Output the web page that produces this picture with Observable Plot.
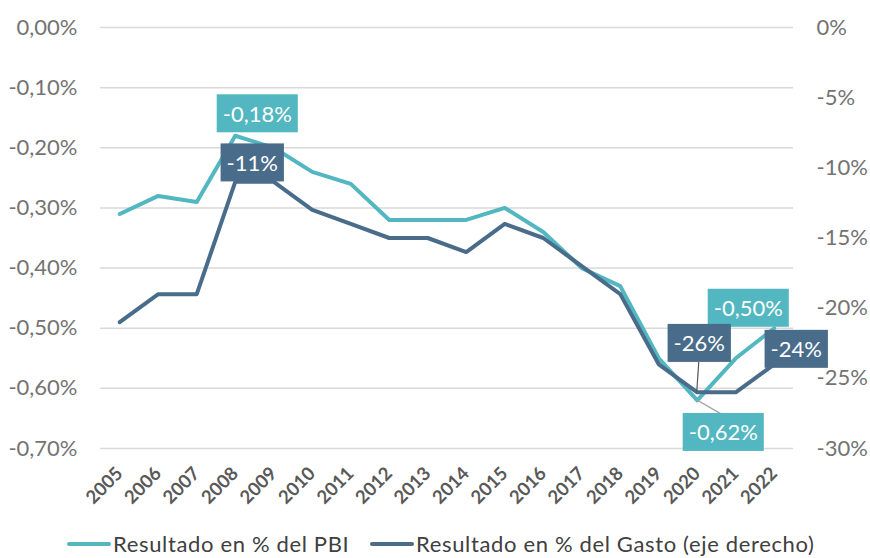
<!DOCTYPE html>
<html>
<head>
<meta charset="utf-8">
<script src="https://cdn.jsdelivr.net/npm/d3@7"></script>
<script src="https://cdn.jsdelivr.net/npm/@observablehq/plot@0.6"></script>
<style>
  html, body { margin: 0; padding: 0; background: #fff; }
  body { width: 870px; height: 558px; overflow: hidden; font-family: Lato, "Open Sans", sans-serif; }
  #legend { position: relative; height: 40px; }
  .item { position: absolute; top: 12px; display: flex; align-items: center; font-size: 22px; letter-spacing: 0.65px; color: #404040; white-space: nowrap; }
  .sw { width: 44px; height: 4px; border-radius: 2px; margin-right: 2px; }
</style>
</head>
<body>
<div id="chart"></div>
<div id="legend"></div>
<script>
// ---- data ----
const years = [2005, 2006, 2007, 2008, 2009, 2010, 2011, 2012, 2013, 2014, 2015, 2016, 2017, 2018, 2019, 2020, 2021, 2022];
const pbi = [-0.31, -0.28, -0.29, -0.18, -0.20, -0.24, -0.26, -0.32, -0.32, -0.32, -0.30, -0.34, -0.40, -0.43, -0.55, -0.62, -0.55, -0.50];
const gasto = [-21, -19, -19, -11, -11, -13, -14, -15, -15, -16, -14, -15, -17, -19, -24, -26, -26, -24];
const leftTicks = [0, -0.1, -0.2, -0.3, -0.4, -0.5, -0.6, -0.7];
const rightTicks = [0, -5, -10, -15, -20, -25, -30];
const seriesNames = ["Resultado en % del PBI", "Resultado en % del Gasto (eje derecho)"];
const pbiLabelYears = [2008, 2020, 2022];
const pbiLabelTexts = ["-0,18%", "-0,62%", "-0,50%"];
const gastoLabelYears = [2008, 2020, 2022];
const gastoLabelTexts = ["-11%", "-26%", "-24%"];

// ---- styles ----
const teal = "#52b7c0";
const dark = "#4a6c8b";
const grid = "#d9d9d9";
const axisColor = "#737373";
const k = 0.7 / 30; // right axis (%) -> left axis units

const rows = years.map((y, i) => ({year: y, pbi: pbi[i], gasto: gasto[i] * k}));
const pbiLabels = pbiLabelYears.map((y, i) => ({year: y, v: pbi[years.indexOf(y)], text: pbiLabelTexts[i]}));
const gastoLabels = gastoLabelYears.map((y, i) => ({year: y, v: gasto[years.indexOf(y)] * k, text: gastoLabelTexts[i]}));

// label offsets (px) per year
const pbiOff = {2008: [22, -21], 2020: [26, 33], 2022: [-26, -19]};
const gastoOff = {2008: [17, -18], 2020: [2, -48], 2022: [22, -14]};

const fmtL = d => d3.format(".2f")(d).replace("\u2212", "-").replace(".", ",") + "%";
const fmtR = d => String(Math.round(d / k)) + "%";

const labelStyle = {fontSize: 22, fill: "white", textAnchor: "middle", lineAnchor: "middle"};

const plot = Plot.plot({
  width: 870,
  height: 518,
  marginLeft: 100,
  marginRight: 77,
  marginTop: 27,
  marginBottom: 70,
  style: {fontFamily: "Lato, 'Open Sans', sans-serif", background: "white", overflow: "visible"},
  x: {type: "point", domain: years, padding: 0.5, round: false},
  y: {domain: [-0.7, 0]},
  marks: [
    Plot.ruleY(leftTicks, {stroke: grid, strokeWidth: 1.5}),
    Plot.axisY(leftTicks, {anchor: "left", tickSize: 0, tickPadding: 23, tickFormat: fmtL, fontSize: 22, fill: axisColor, label: null}),
    Plot.axisY(rightTicks.map(v => v * k), {anchor: "right", tickSize: 0, tickPadding: 23, tickFormat: fmtR, fontSize: 22, fill: axisColor, textAnchor: "start", label: null}),
    Plot.axisX(years, {tickSize: 0, tickRotate: -45, tickPadding: 22, fontSize: 18.5, fontWeight: "bold", fill: "#595959", label: null, tickFormat: d => String(d)}),
    Plot.line(rows, {x: "year", y: "pbi", stroke: teal, strokeWidth: 4}),
    Plot.line(rows, {x: "year", y: "gasto", stroke: dark, strokeWidth: 4}),
    ...pbiLabels.map(d => Plot.text([d], {x: "year", y: "v", text: "text", dx: pbiOff[d.year][0], dy: pbiOff[d.year][1], ...labelStyle})),
    ...gastoLabels.map(d => Plot.text([d], {x: "year", y: "v", text: "text", dx: gastoOff[d.year][0], dy: gastoOff[d.year][1], ...labelStyle}))
  ]
});

document.getElementById("chart").appendChild(plot);

const xs = plot.scale("x"), ys = plot.scale("y");
const textGroups = Array.from(plot.querySelectorAll('g[aria-label="text"]'));
const firstLabel = textGroups[0];

// leader lines (from scale positions), below labels
function leader(year, v, off, h, toTop, color) {
  const px = xs.apply(year), py = ys.apply(v);
  const bx = px + off[0], by = py + off[1] + (toTop ? -h / 2 : h / 2);
  const ln = document.createElementNS("http://www.w3.org/2000/svg", "line");
  ln.setAttribute("x1", px); ln.setAttribute("y1", py);
  ln.setAttribute("x2", bx); ln.setAttribute("y2", by);
  ln.setAttribute("stroke", color); ln.setAttribute("stroke-width", 1.2);
  plot.insertBefore(ln, firstLabel);
}
leader(2020, gasto[years.indexOf(2020)] * k, gastoOff[2020], 36, false, "#595959");
leader(2020, pbi[years.indexOf(2020)], pbiOff[2020], 36, true, "#a6a6a6");

// boxes behind labels
textGroups.forEach((g, gi) => {
  const color = gi < pbiLabels.length ? teal : dark;
  g.querySelectorAll("text").forEach(t => {
    const b = t.getBBox();
    const r = document.createElementNS("http://www.w3.org/2000/svg", "rect");
    const px = 6, py = 5.5;
    r.setAttribute("x", b.x - px); r.setAttribute("y", b.y - py);
    r.setAttribute("width", b.width + 2 * px); r.setAttribute("height", b.height + 2 * py);
    r.setAttribute("fill", color);
    if (t.getAttribute("transform")) r.setAttribute("transform", t.getAttribute("transform"));
    t.parentNode.insertBefore(r, t);
  });
});

// legend
const legend = document.getElementById("legend");
[[67, teal], [370, dark]].forEach(([left, c], i) => {
  const it = document.createElement("div");
  it.className = "item";
  it.style.left = left + "px";
  it.innerHTML = `<span class="sw" style="background:${c}"></span><span>${seriesNames[i]}</span>`;
  legend.appendChild(it);
});
</script>
</body>
</html>
